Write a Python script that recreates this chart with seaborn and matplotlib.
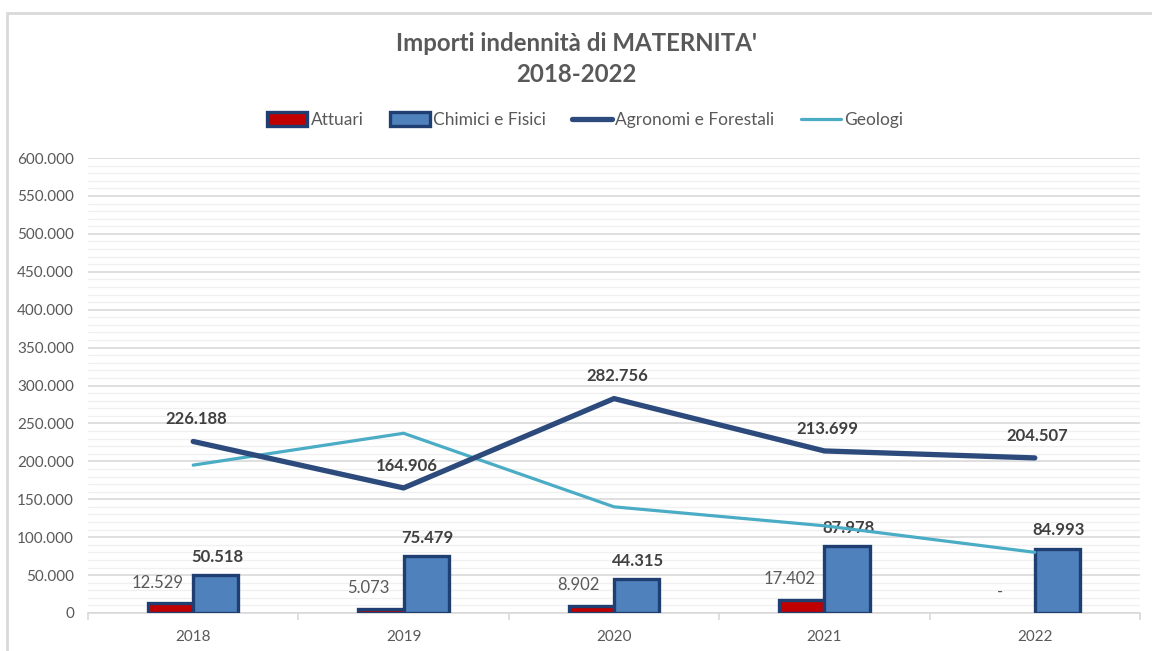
import numpy as np
import pandas as pd
import matplotlib
matplotlib.use("Agg")
import matplotlib.pyplot as plt
import seaborn as sns
from matplotlib.patches import Rectangle, Patch
from matplotlib.lines import Line2D
from matplotlib.ticker import MultipleLocator, FuncFormatter

# ----------------------------------------------------------
# Data
# ----------------------------------------------------------
years = ["2018", "2019", "2020", "2021", "2022"]
attuari = [12529, 5073, 8902, 17402, 0]
chimici = [50518, 75479, 44315, 87978, 84993]
agronomi = [226188, 164906, 282756, 213699, 204507]
geologi = [195000, 237000, 140000, 115000, 80000]

bar_names = ["Attuari", "Chimici e Fisici"]
bar_fill = ["#C00000", "#4F81BD"]
edge_col = "#1F3F73"
agro_col = "#2C4A7C"
geo_col = "#4BACC6"
text_col = "#595959"
label_col = "#404040"

sns.set_theme(style="white")
plt.rcParams["font.family"] = ["Lato", "DejaVu Sans"]

df = pd.DataFrame({
    "Anno": years * 2,
    "Serie": [bar_names[0]] * len(years) + [bar_names[1]] * len(years),
    "Importo": attuari + chimici,
})

fig = plt.figure(figsize=(11.52, 6.51), dpi=100)
ax = fig.add_axes([88 / 1152, 1 - 613 / 651, (1140 - 88) / 1152, (613 - 158) / 651])

# light frame around the chart area
fig.patches.append(Rectangle((7 / 1152, -0.05), 1.1, 1.05 - 13 / 651, transform=fig.transFigure,
                             fill=False, edgecolor="#D9D9D9", linewidth=2, zorder=0))

# ----------------------------------------------------------
# Bars
# ----------------------------------------------------------
sns.barplot(data=df, x="Anno", y="Importo", hue="Serie", order=years,
            hue_order=bar_names, palette=bar_fill, saturation=1, width=0.43, dodge=True,
            edgecolor=edge_col, linewidth=2.4, ax=ax, legend=False, zorder=3)
# empty bars (value 0) have no visible outline
for p in ax.patches:
    if p.get_height() == 0:
        p.set_linewidth(0)

x = np.arange(len(years))
line_df = pd.DataFrame({"x": x, "Agronomi e Forestali": agronomi, "Geologi": geologi})
sns.lineplot(data=line_df, x="x", y="Geologi", color=geo_col, linewidth=2.3, ax=ax, zorder=4)
sns.lineplot(data=line_df, x="x", y="Agronomi e Forestali", color=agro_col, linewidth=3.8,
             ax=ax, zorder=5, solid_capstyle="round")

# ----------------------------------------------------------
# Labels
# ----------------------------------------------------------
def fmt(v):
    return "-" if v == 0 else f"{v:,.0f}".replace(",", ".")

bw = 0.43 / 2
for i in x:
    ax.annotate(fmt(attuari[i]), (i - bw / 2, attuari[i]), xytext=(-9, 15),
                textcoords="offset points", ha="center", va="center",
                fontsize=12, color=text_col)
    ax.annotate(fmt(chimici[i]), (i + bw / 2, chimici[i]), xytext=(1, 13),
                textcoords="offset points", ha="center", va="center",
                fontsize=12, fontweight="bold", color=label_col)
    ax.annotate(fmt(agronomi[i]), (i, agronomi[i]), xytext=(2, 16),
                textcoords="offset points", ha="center", va="center",
                fontsize=12, fontweight="bold", color=label_col)

# ----------------------------------------------------------
# Axes styling
# ----------------------------------------------------------
ax.set_xlim(-0.5, len(years) - 0.5)
ax.set_ylim(0, 600000)
ax.yaxis.set_major_locator(MultipleLocator(50000))
ax.yaxis.set_minor_locator(MultipleLocator(10000))
ax.yaxis.set_major_formatter(FuncFormatter(lambda v, p: "0" if v == 0 else f"{v:,.0f}".replace(",", ".")))
ax.grid(axis="y", which="major", color="#D9D9D9", linewidth=1.2, zorder=0)
ax.grid(axis="y", which="minor", color="#F0F0F0", linewidth=1.0, zorder=0)
ax.set_axisbelow(True)
ax.xaxis.set_minor_locator(MultipleLocator(1, offset=0.5))
ax.tick_params(axis="x", which="major", length=0, labelsize=11, labelcolor=text_col, pad=12)
ax.tick_params(axis="x", which="minor", length=5, color="#D9D9D9", width=1.2, direction="out")
ax.tick_params(axis="x", which="minor", bottom=True)
ax.tick_params(axis="y", which="both", length=0, labelsize=11, labelcolor=text_col, pad=10)
for s in ["top", "right", "left"]:
    ax.spines[s].set_visible(False)
ax.spines["bottom"].set_color("#D9D9D9")
ax.spines["bottom"].set_linewidth(1.2)
ax.set_xlabel("")
ax.set_ylabel("")

# ----------------------------------------------------------
# Title and legend
# ----------------------------------------------------------
fig.text(0.5, 1 - 59 / 651, "Importi indennità di MATERNITA'\n2018-2022", ha="center", va="center",
         fontsize=17.3, fontweight="bold", color=text_col, linespacing=1.4)

handles = [
    Patch(facecolor=bar_fill[0], edgecolor=edge_col, linewidth=2.4),
    Patch(facecolor=bar_fill[1], edgecolor=edge_col, linewidth=2.4),
    Line2D([], [], color=agro_col, linewidth=3.8),
    Line2D([], [], color=geo_col, linewidth=2.3),
]
labels = bar_names + ["Agronomi e Forestali", "Geologi"]
fig.legend(handles, labels, loc="center", bbox_to_anchor=(0.508, 1 - 120 / 651), ncol=4,
           frameon=False, fontsize=12.5, labelcolor=text_col, handlelength=2.3,
           handleheight=0.8, handletextpad=0.2, columnspacing=1.5)

fig.savefig("out.png", dpi=100, facecolor="white")
